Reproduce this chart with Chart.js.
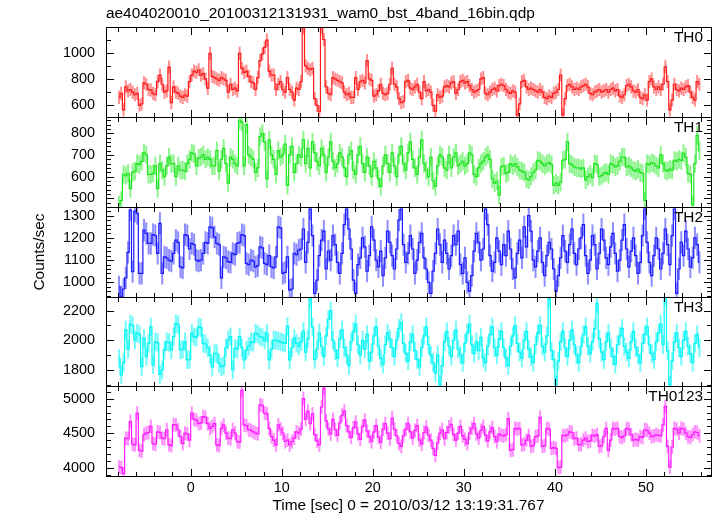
<!DOCTYPE html>
<html>
<head>
<meta charset="utf-8">
<script src="https://cdn.jsdelivr.net/npm/chart.js@4"></script>
<style>
  html, body { margin: 0; padding: 0; background: #fff; }
  #wrap { position: relative; width: 717px; height: 516px; overflow: hidden; background: #fff; }
  #wrap canvas { position: absolute; left: 0; }
</style>
</head>
<body>
<div id="wrap"></div>
<script>
// light curve, 0.25 s bins starting at t = -8 s
const plotTitle = 'ae404020010_20100312131931_wam0_bst_4band_16bin.qdp';
const xTitle = 'Time [sec] 0 = 2010/03/12 13:19:31.767';
const yTitle = 'Counts/sec';
const bandNames = ['TH0', 'TH1', 'TH2', 'TH3', 'TH0123'];
const tStart = -8;
const binWidth = 0.25;

const th0Rate = [
  660, 690, 565, 741, 710, 720, 700, 680,   690, 600, 610, 770, 760, 720, 715, 690,
  680, 780, 830, 760, 700, 710, 890, 620,   740, 700, 690, 670, 660, 680, 670, 780,
  830, 860, 850, 870, 830, 840, 800, 730,   995, 820, 810, 800, 790, 810, 800, 790,
  700, 760, 720, 730, 710, 995, 880, 850,   860, 820, 780, 770, 720, 810, 940, 990,
  1040, 1096, 860, 830, 830, 720, 760, 780, 720, 700, 810, 720, 700, 640, 730, 720,
  780, 1190, 900, 880, 870, 880, 650, 600,  551, 1190, 1100, 741, 690, 680, 810, 800,
  790, 780, 770, 700, 680, 690, 660, 660,   810, 720, 780, 790, 770, 940, 800, 790,
  670, 680, 710, 760, 690, 680, 690, 760,   880, 760, 740, 650, 620, 630, 780, 790,
  730, 720, 740, 760, 700, 650, 780, 710,   720, 700, 600, 555, 680, 660, 670, 740,
  750, 740, 770, 780, 690, 720, 780, 790,   770, 780, 750, 720, 700, 710, 720, 800,
  810, 690, 680, 700, 720, 730, 710, 750,   760, 750, 720, 700, 690, 710, 700, 525,
  610, 780, 790, 740, 720, 730, 720, 710,   700, 720, 700, 660, 650, 670, 660, 690,
  700, 720, 830, 525, 650, 750, 760, 740,   720, 730, 720, 740, 750, 760, 740, 690,
  680, 700, 710, 720, 700, 710, 720, 700,   720, 730, 710, 720, 670, 660, 680, 750,
  760, 740, 710, 700, 720, 660, 650, 680,   640, 780, 800, 740, 720, 740, 720, 760,
  893, 780, 565, 640, 760, 720, 710, 730,   720, 740, 750, 700, 660, 640, 780, 760
];
const th1Rate = [
  470, 490, 610, 605, 615, 545, 620, 625,   660, 655, 670, 710, 700, 610, 610, 615,
  650, 545, 660, 630, 600, 650, 690, 660,   660, 600, 650, 630, 630, 625, 660, 680,
  710, 705, 650, 685, 690, 700, 680, 690,   680, 650, 650, 720, 625, 680, 730, 660,
  570, 690, 680, 660, 650, 860, 850, 650,   840, 700, 690, 680, 620, 640, 785, 800,
  760, 590, 770, 700, 680, 610, 720, 690,   700, 750, 560, 700, 740, 620, 660, 700,
  690, 770, 660, 730, 640, 760, 710, 670,   650, 730, 700, 620, 690, 760, 670, 640,
  660, 710, 690, 640, 600, 700, 720, 630,   610, 700, 740, 660, 620, 690, 650, 600,
  670, 640, 590, 555, 650, 700, 660, 620,   710, 650, 600, 700, 740, 660, 630, 710,
  760, 680, 640, 610, 690, 770, 660, 630,   600, 690, 580, 555, 650, 700, 690, 640,
  630, 700, 640, 690, 710, 650, 660, 670,   650, 660, 710, 700, 610, 600, 640, 660,
  670, 690, 700, 680, 590, 570, 580, 515,   645, 650, 615, 620, 660, 650, 660, 645,
  630, 625, 620, 590, 585, 600, 620, 630,   675, 670, 660, 650, 660, 665, 655, 560,
  570, 560, 575, 675, 680, 760, 660, 655,   645, 640, 640, 635, 640, 585, 600, 610,
  595, 660, 655, 600, 605, 615, 620, 610,   660, 655, 645, 650, 670, 690, 690, 645,
  650, 640, 630, 625, 635, 620, 615, 490,   660, 655, 665, 660, 650, 640, 700, 660,
  630, 625, 635, 630, 675, 670, 680, 675,   707, 690, 615, 610, 470, 660, 790, 720
];
const th2Rate = [
  980, 935, 970, 1020, 1135, 1325, 1048, 1320,  1310, 1040, 1040, 1235, 1220, 1175, 1175, 1215,
  1210, 1130, 1265, 1040, 1115, 1110, 1100, 1095, 1130, 1190, 1180, 1070, 1065, 1215, 1210, 1150,
  1175, 1170, 1100, 1095, 1100, 1130, 1180, 1175, 1250, 1245, 1205, 1175, 1170, 1020, 1115, 1110,
  1093, 1090, 1130, 1125, 1175, 1180, 1215, 1210, 1085, 1080, 1100, 1095, 1070, 1075, 1160, 1155,
  1085, 1080, 1120, 1070, 1065, 1115, 1250, 1245, 1040, 1045, 1115, 965, 970, 1130, 1125, 1145,
  1150, 1240, 1090, 1180, 1330, 1210, 950, 1010,  1120, 1190, 1230, 1060, 1140, 1100, 1210, 1170,
  1090, 1040, 1130, 1260, 1330, 1240, 1150, 1010, 950, 1080, 1110, 1200, 1160, 1050, 1120, 1250,
  1190, 1100, 1070, 1140, 1030, 1110, 1230, 1180, 1120, 1060, 1150, 1280, 1330, 1170, 1090, 1130,
  1210, 1150, 1040, 1100, 1180, 1220, 1110, 1060, 1000, 950, 1050, 1130, 1240, 1170, 1090, 1190,
  1130, 1060, 1120, 1210, 1170, 1230, 1080, 1040, 1110, 1000, 960, 1030, 1140, 1220, 1180, 1100,
  1150, 1330, 1260, 1120, 1050, 1090, 1200, 1140, 1080, 1170, 1120, 1230, 1150, 1060, 1020, 1130,
  1190, 1110, 1250, 1160, 1300, 1230, 1100, 1070, 1140, 1200, 1090, 1030, 1120, 1180, 1150, 1060,
  960, 1030, 1110, 1210, 1140, 1090, 1170, 1240,  1130, 1080, 1150, 1200, 1260, 1120, 1040, 1100,
  1210, 1170, 1060, 1130, 1240, 1190, 1110, 1080, 1160, 1220, 1130, 1050, 1100, 1190, 1260, 1150,
  1070, 1140, 1200, 1120, 1040, 1090, 1210, 1330, 1180, 1090, 1030, 1120, 1200, 1150, 1060, 1130,
  1240, 1170, 1080, 1210, 1330, 950, 1060, 1180,  1120, 1230, 1150, 1070, 1110, 1200, 1170, 1090
];
const th3Rate = [
  1878, 1766, 1850, 2070, 1940, 2110, 2100, 2002, 2048, 2040, 1822, 2015, 1890, 1980, 2090, 1835,
  1990, 1985, 1770, 1800, 1935, 1990, 1985, 1935, 2025, 2112, 2105, 1935, 1940, 1990, 1868, 1870,
  2048, 2025, 2020, 2090, 2085, 1980, 1975, 1950, 1900, 1820, 1912, 1910, 1845, 1822, 1830, 1950,
  2002, 2025, 1800, 1945, 1940, 2025, 1950, 1868, 1935, 1960, 1990, 1985, 2048, 2040, 2025, 2020,
  2000, 2048, 1868, 1940, 2002, 2000, 1995, 1990, 1985, 1980, 2095, 1868, 1950, 2015, 1980, 1960,
  1990, 2060, 1920, 2010, 2280, 2090, 1870, 1940, 2050, 1960, 1890, 2030, 2140, 2200, 2000, 1930,
  1880, 2010, 2070, 1950, 1900, 1830, 1990, 2060, 2110, 1970, 1900, 2000, 1940, 2040, 1860, 1920,
  2030, 2090, 1960, 1880, 1840, 1970, 2050, 2010, 1950, 1890, 2000, 2080, 2120, 1980, 1910, 1860,
  1990, 2040, 1930, 1870, 1820, 1950, 2030, 2090, 1970, 1900, 1850, 1780, 1900, 1700, 1830, 1990,
  2060, 1960, 1890, 2000, 2070, 1940, 1900, 1850, 1980, 2050, 2110, 1970, 1910, 1990, 1930, 2020,
  1880, 1850, 1960, 2040, 2090, 1950, 1900, 2010, 2060, 1950, 1880, 1830, 1960, 2030, 2100, 1980,
  1920, 1880, 2000, 2060, 1940, 1890, 1850, 1970, 2050, 2100, 1960, 1920, 2030, 2280, 1930, 1870,
  1700, 1860, 1990, 2060, 1950, 1890, 2000, 2070, 1970, 1900, 1850, 1960, 2040, 2090, 1960, 1910,
  1990, 2080, 2250, 2010, 1920, 1870, 1990, 2050, 1950, 1890, 1840, 1970, 2030, 2080, 1960, 1920,
  1880, 1990, 2060, 1950, 1900, 1850, 1980, 2040, 2090, 1970, 1910, 1870, 1990, 2050, 2110, 1970,
  2300, 1930, 1700, 1860, 1990, 2050, 1950, 1890, 2000, 2060, 1960, 1910, 1850, 1980, 2040, 1950
];
const th0123Rate = [
  4010, 4000, 3915, 4430, 4420, 4670, 4340, 4330, 4790, 4250, 4240, 4480, 4500, 4510, 4600, 4350,
  4340, 4520, 4510, 4430, 4420, 4550, 4330, 4320, 4625, 4620, 4550, 4450, 4350, 4500, 4490, 4400,
  4790, 4700, 4690, 4640, 4650, 4740, 4730, 4640, 4570, 4600, 4640, 4330, 4320, 4570, 4620, 4500,
  4430, 4420, 4550, 4500, 4380, 4370, 5120, 4620, 4610, 4550, 4540, 4520, 4500, 4490, 4910, 4900,
  4790, 4780, 4570, 4450, 4400, 4330, 4620, 4560, 4500, 4380, 4400, 4330, 4380, 4430, 4520, 4500,
  4560, 5000, 4700, 4820, 4640, 4780, 4480, 4390, 4330, 4880, 5150, 4680, 4560, 4490, 4700, 4550,
  4470, 4650, 4760, 4820, 4610, 4520, 4440, 4580, 4660, 4490, 4410, 4600, 4690, 4530, 4450, 4380,
  4520, 4610, 4440, 4370, 4560, 4640, 4500, 4420, 4720, 4560, 4460, 4350, 4310, 4460, 4560, 4640,
  4520, 4430, 4540, 4610, 4400, 4340, 4510, 4590, 4470, 4400, 4280, 4180, 4360, 4500, 4550, 4420,
  4510, 4590, 4630, 4480, 4400, 4500, 4600, 4460, 4410, 4350, 4500, 4570, 4640, 4490, 4430, 4540,
  4600, 4470, 4390, 4520, 4580, 4450, 4380, 4490, 4470, 4460, 4480, 4710, 4250, 4260, 4570, 4560,
  4570, 4330, 4340, 4400, 4470, 4310, 4320, 4450, 4460, 4730, 4310, 4320, 4570, 4560, 4280, 4290,
  4280, 4000, 4010, 4470, 4460, 4480, 4520, 4510, 4420, 4430, 4330, 4340, 4400, 4430, 4380, 4390,
  4470, 4460, 4480, 4310, 4320, 4450, 4570, 4250, 4400, 4570, 4560, 4570, 4450, 4440, 4460, 4570,
  4560, 4480, 4400, 4410, 4400, 4450, 4440, 4550, 4540, 4500, 4450, 4460, 4480, 4470, 4460, 4620,
  4890, 4310, 4010, 4300, 4570, 4560, 4500, 4570, 4560, 4500, 4450, 4440, 4480, 4520, 4510, 4460
];

// 1-sigma error per bin, by band
const th0Err = 50, th1Err = 42, th2Err = 50, th3Err = 62, th0123Err = 100;

// labelled tick values
const xTickLabels = [0, 10, 20, 30, 40, 50];
const th0Ticks = [600, 800, 1000];
const th1Ticks = [500, 600, 700, 800];
const th2Ticks = [1000, 1100, 1200, 1300];
const th3Ticks = [1800, 2000, 2200];
const th0123Ticks = [4000, 4500, 5000];

const FONT = "'Liberation Sans', Arial, Helvetica, sans-serif";
const X_MIN = -9.3, X_MAX = 57.14;

const panels = [
  { rate: th0Rate, err: th0Err, ticks: th0Ticks, minor: 100, min: 511, max: 1195, top: 27, bottom: 117, color: '#ff1a1a', errColor: 'rgba(255,30,30,0.5)' },
  { rate: th1Rate, err: th1Err, ticks: th1Ticks, minor: 20, min: 460, max: 875, top: 117, bottom: 207, color: '#1ee61e', errColor: 'rgba(30,235,30,0.5)' },
  { rate: th2Rate, err: th2Err, ticks: th2Ticks, minor: 20, min: 934, max: 1339, top: 207, bottom: 297, color: '#1a1aff', errColor: 'rgba(30,30,255,0.5)' },
  { rate: th3Rate, err: th3Err, ticks: th3Ticks, minor: 100, min: 1692, max: 2292, top: 297, bottom: 386, color: '#00f5f5', errColor: 'rgba(0,245,245,0.55)' },
  { rate: th0123Rate, err: th0123Err, ticks: th0123Ticks, minor: 100, min: 3880, max: 5184, top: 386, bottom: 476, color: '#ff1aff', errColor: 'rgba(255,30,255,0.5)' }
];

const decor = {
  id: 'decor',
  beforeDatasetsDraw(chart, args, o) {
    const { ctx, chartArea: a, scales: { x, y } } = chart;
    ctx.save();
    ctx.beginPath();
    ctx.rect(a.left, a.top, a.right - a.left, a.bottom - a.top);
    ctx.clip();
    ctx.strokeStyle = o.errColor;
    ctx.lineWidth = 2;
    ctx.beginPath();
    chart.data.datasets[0].data.forEach(p => {
      const px = x.getPixelForValue(p.x);
      ctx.moveTo(px, y.getPixelForValue(p.y - o.err));
      ctx.lineTo(px, y.getPixelForValue(p.y + o.err));
    });
    ctx.stroke();
    ctx.restore();
  },
  afterDraw(chart, args, o) {
    const { ctx, chartArea: a, scales: { x, y } } = chart;
    const L = Math.round(a.left) + 0.5, R = Math.round(a.right) + 0.5;
    const T = Math.round(a.top) + 0.5, B = Math.round(a.bottom) + 0.5;
    ctx.save();
    ctx.strokeStyle = '#000';
    ctx.lineWidth = 1;
    ctx.beginPath();
    // x ticks, every 2 s, long every 10 s
    for (let v = -8; v <= 56; v += 2) {
      const px = Math.round(x.getPixelForValue(v)) + 0.5;
      const len = v % 10 === 0 ? 7.5 : 4.5;
      ctx.moveTo(px, T); ctx.lineTo(px, T + len);
      ctx.moveTo(px, B); ctx.lineTo(px, B - len);
    }
    // y ticks
    for (let v = Math.ceil(o.min / o.minor) * o.minor; v <= o.max; v += o.minor) {
      const py = Math.round(y.getPixelForValue(v)) + 0.5;
      const len = o.ticks.includes(v) ? 7.5 : 4.5;
      ctx.moveTo(L, py); ctx.lineTo(L + len, py);
      ctx.moveTo(R, py); ctx.lineTo(R - len, py);
    }
    ctx.stroke();
    ctx.strokeRect(L, T, R - L, B - T);
    ctx.fillStyle = '#000';
    ctx.font = '15.4px ' + FONT;
    ctx.textAlign = 'right';
    ctx.textBaseline = 'middle';
    ctx.fillText(o.name, a.right - 8, a.top + 10.5);
    ctx.restore();
  }
};

const wrap = document.getElementById('wrap');

panels.forEach((p, i) => {
  const first = i === 0, last = i === panels.length - 1;
  const cTop = first ? 0 : p.top - 20;
  const cBottom = last ? 516 : p.bottom + 20;
  const canvas = document.createElement('canvas');
  canvas.width = 717;
  canvas.height = cBottom - cTop;
  canvas.style.top = cTop + 'px';
  canvas.style.width = '717px';
  canvas.style.height = (cBottom - cTop) + 'px';
  wrap.appendChild(canvas);

  const points = p.rate.map((v, k) => ({ x: tStart + (k + 0.5) * binWidth, y: v }));

  new Chart(canvas, {
    type: 'line',
    data: {
      datasets: [{
        data: points,
        borderColor: p.color,
        borderWidth: 1.2,
        pointRadius: 0,
        stepped: 'middle',
        fill: false
      }]
    },
    options: {
      responsive: false,
      animation: false,
      events: [],
      layout: { padding: { top: first ? 0 : 20, bottom: last ? 0 : 20, left: 0, right: 6 } },
      plugins: {
        legend: { display: false },
        tooltip: { enabled: false },
        title: first ? {
          display: true, text: plotTitle, align: 'start', fullSize: false, color: '#000',
          font: { family: FONT, size: 15.4, weight: 'normal' },
          padding: { top: 4.5, bottom: 4.02 }
        } : { display: false },
        decor: { name: bandNames[i], err: p.err, errColor: p.errColor, min: p.min, max: p.max, minor: p.minor, ticks: p.ticks }
      },
      scales: {
        x: {
          type: 'linear', min: X_MIN, max: X_MAX, display: last,
          afterBuildTicks: s => { s.ticks = xTickLabels.map(v => ({ value: v })); },
          afterFit: s => { s.height = last ? 40 : 0; },
          grid: { display: false, drawTicks: false },
          border: { display: false },
          ticks: { color: '#000', font: { family: FONT, size: 14.4 }, padding: 3.4, maxRotation: 0, autoSkip: false, callback: v => String(v) },
          title: { display: last, text: xTitle, color: '#000', font: { family: FONT, size: 15.4 }, padding: { top: 0, bottom: 1.3 } }
        },
        y: {
          min: p.min, max: p.max,
          afterBuildTicks: s => { s.ticks = p.ticks.map(v => ({ value: v })); },
          afterFit: s => { s.width = 106; },
          grid: { display: false, drawTicks: false },
          border: { display: false },
          ticks: { color: '#000', font: { family: FONT, size: 14.4 }, padding: 11, autoSkip: false, callback: v => String(v) },
          title: {
            display: i === 2, text: yTitle, color: '#000',
            font: { family: FONT, size: 15.4 }, padding: { top: 30.8, bottom: 0 }
          }
        }
      }
    },
    plugins: [decor]
  });
});
</script>
</body>
</html>
